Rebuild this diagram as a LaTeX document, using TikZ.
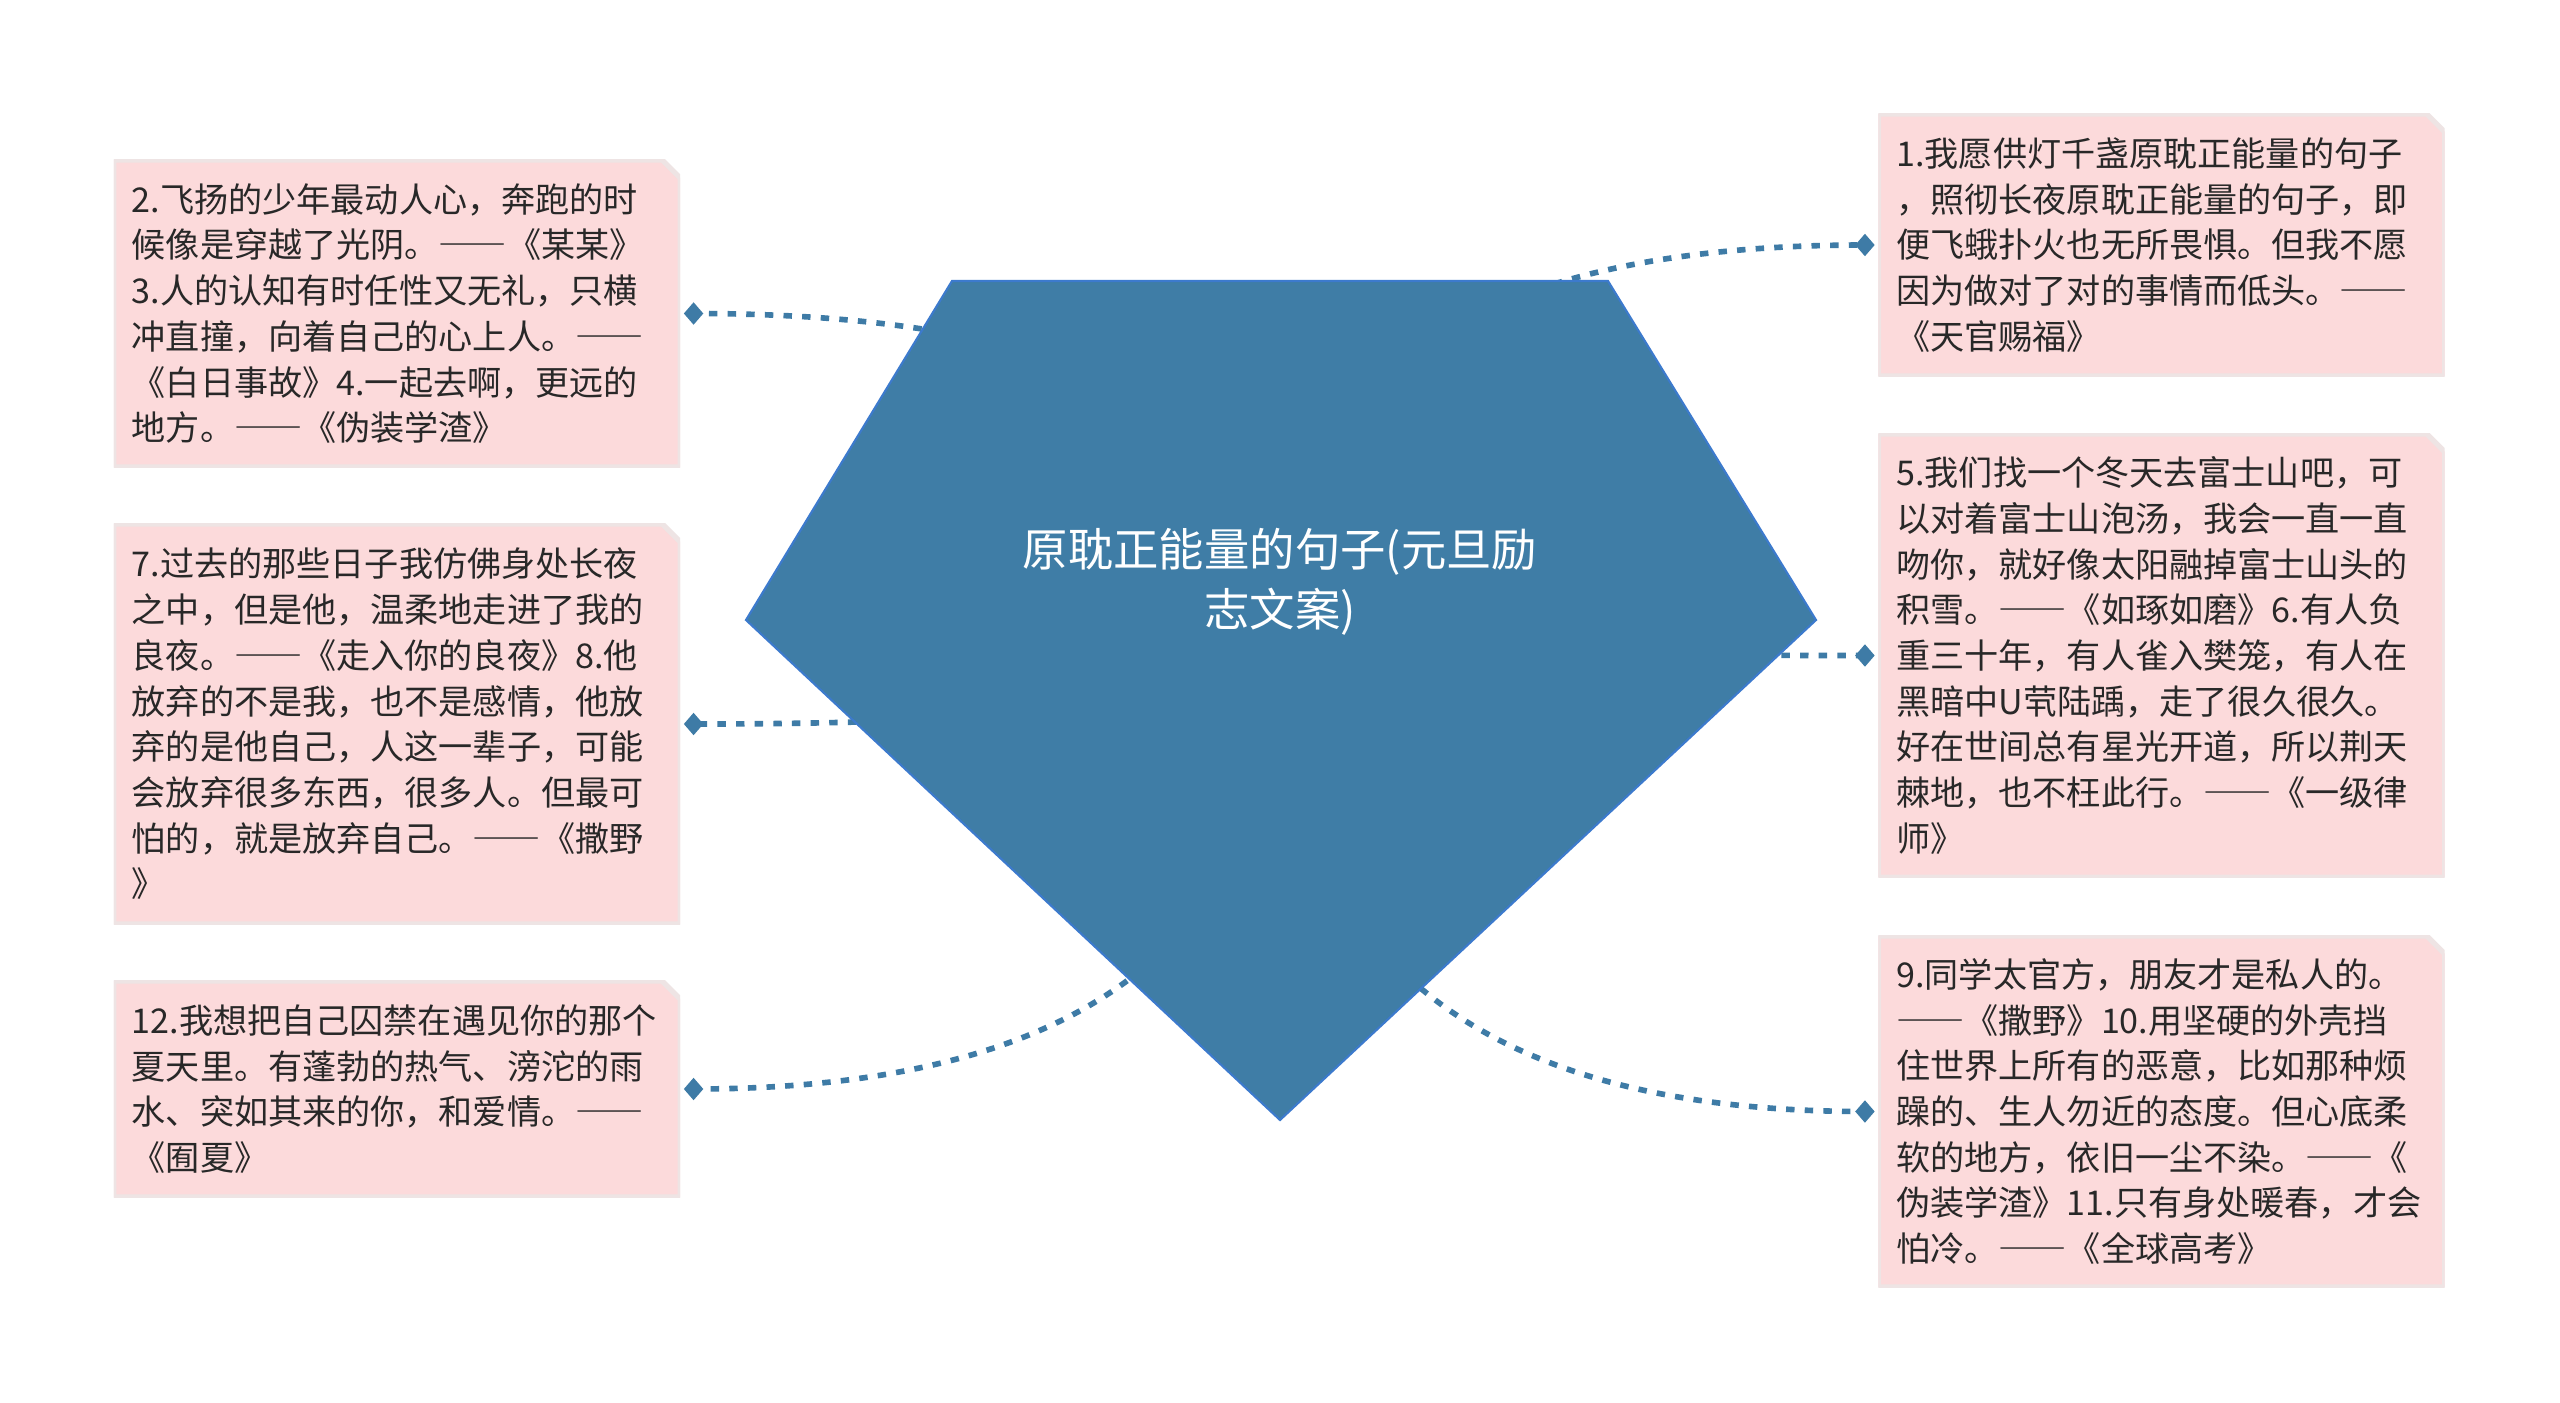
\documentclass[tikz,border=0pt]{standalone}
\usepackage{fontspec}
\setmainfont{Noto Sans CJK SC}
\usetikzlibrary{shapes.geometric, positioning, calc, backgrounds}
\definecolor{rootblue}{RGB}{63, 125, 166}
\definecolor{rootedge}{RGB}{60, 122, 205}
\definecolor{linkblue}{RGB}{62, 123, 166}
\definecolor{boxpink}{RGB}{252, 218, 219}
\definecolor{boxedge}{RGB}{238, 228, 228}
\definecolor{ink}{RGB}{40, 40, 40}
\newcommand{\zdash}{{\addfontfeature{CharacterWidth=Full}——}}

\begin{document}
\begin{tikzpicture}[
    x=0.01cm, y=-0.01cm,
    % Styles embedded for portability
    box_text/.style={rectangle, inner xsep=0.18cm, inner ysep=0pt, text width=5.3cm, align=left, text=ink,
        font={\fontsize{9.7pt}{13pt}\selectfont},
        path picture={\fill[boxpink, draw=boxedge, line width=1.5pt]
            (path picture bounding box.south west) -- (path picture bounding box.north west)
            -- ([xshift=-0.18cm]path picture bounding box.north east)
            -- ([yshift=-0.18cm]path picture bounding box.north east)
            -- (path picture bounding box.south east) -- cycle;}},
    root_text/.style={align=center, text=white, font={\fontsize{12.9pt}{17pt}\selectfont}},
    diamond_dot/.style={diamond, fill=linkblue, minimum width=0.2cm, minimum height=0.23cm, inner sep=0pt},
    link/.style={draw=linkblue, line width=1.6pt, dash pattern=on 2.4pt off 2.9pt}
]
    \useasboundingbox (0,0) rectangle (2560,1403);

    % --- ROOT ---
    \coordinate (root_c) at (1280,637);
    \node [root_text] (root) at (1280,582) {原耽正能量的句子(元旦励\\志文案)};

    % --- LEFT SIDE ---
    \node [box_text, minimum height=3.07cm] (box_l1) at (397,313.5) {2.飞扬的少年最动人心，奔跑的时\\候像是穿越了光阴。\zdash《某某》\\3.人的认知有时任性又无礼，只横\\冲直撞，向着自己的心上人。\zdash\\《白日事故》4.一起去啊，更远的\\地方。\zdash《伪装学渣》};
    \node [box_text, minimum height=4.00cm] (box_l2) at (397,724) {7.过去的那些日子我仿佛身处长夜\\之中，但是他，温柔地走进了我的\\良夜。\zdash《走入你的良夜》8.他\\放弃的不是我，也不是感情，他放\\弃的是他自己，人这一辈子，可能\\会放弃很多东西，很多人。但最可\\怕的，就是放弃自己。\zdash《撒野\\》};
    \node [box_text, minimum height=2.16cm] (box_l3) at (397,1089) {12.我想把自己囚禁在遇见你的那个\\夏天里。有蓬勃的热气、滂沱的雨\\水、突如其来的你，和爱情。\zdash\\《囿夏》};

    % --- RIGHT SIDE ---
    \node [box_text, minimum height=2.62cm] (box_r1) at (2161.5,245) {1.我愿供灯千盏原耽正能量的句子\\，照彻长夜原耽正能量的句子，即\\便飞蛾扑火也无所畏惧。但我不愿\\因为做对了对的事情而低头。\zdash\\《天官赐福》};
    \node [box_text, minimum height=4.43cm] (box_r2) at (2161.5,655.5) {5.我们找一个冬天去富士山吧，可\\以对着富士山泡汤，我会一直一直\\吻你，就好像太阳融掉富士山头的\\积雪。\zdash《如琢如磨》6.有人负\\重三十年，有人雀入樊笼，有人在\\黑暗中U茕陆踽，走了很久很久。\\好在世间总有星光开道，所以荆天\\棘地，也不枉此行。\zdash《一级律\\师》};
    \node [box_text, minimum height=3.51cm] (box_r3) at (2161.5,1111.5) {9.同学太官方，朋友才是私人的。\\\zdash《撒野》10.用坚硬的外壳挡\\住世界上所有的恶意，比如那种烦\\躁的、生人勿近的态度。但心底柔\\软的地方，依旧一尘不染。\zdash《\\伪装学渣》11.只有身处暖春，才会\\怕冷。\zdash《全球高考》};

    % --- DIAMONDS ---
    \node [diamond_dot, right=0.02cm of box_l1] (d_l1) {};
    \node [diamond_dot, right=0.02cm of box_l2] (d_l2) {};
    \node [diamond_dot, right=0.02cm of box_l3] (d_l3) {};
    \node [diamond_dot, left=0.02cm of box_r1] (d_r1) {};
    \node [diamond_dot, left=0.02cm of box_r2] (d_r2) {};
    \node [diamond_dot, left=0.02cm of box_r3] (d_r3) {};

    % --- CONNECTIONS (under the pentagon) ---
    \begin{scope}[on background layer]
        \fill [white] (0,0) rectangle (2560,1403);
        \foreach \d in {d_l1, d_l2, d_l3, d_r1, d_r2, d_r3}
            \draw [link] (root_c) .. controls ($(root_c)!2/3!(root_c |- \d)$) and ($(\d.center)!2/3!(root_c |- \d)$) .. (\d.center);
        % Pentagon
        \filldraw [fill=rootblue, draw=rootedge, line width=0.6pt]
            (952,281) -- (1608,281) -- (1816,620) -- (1280,1120) -- (746,620) -- cycle;
    \end{scope}

\end{tikzpicture}
\end{document}
